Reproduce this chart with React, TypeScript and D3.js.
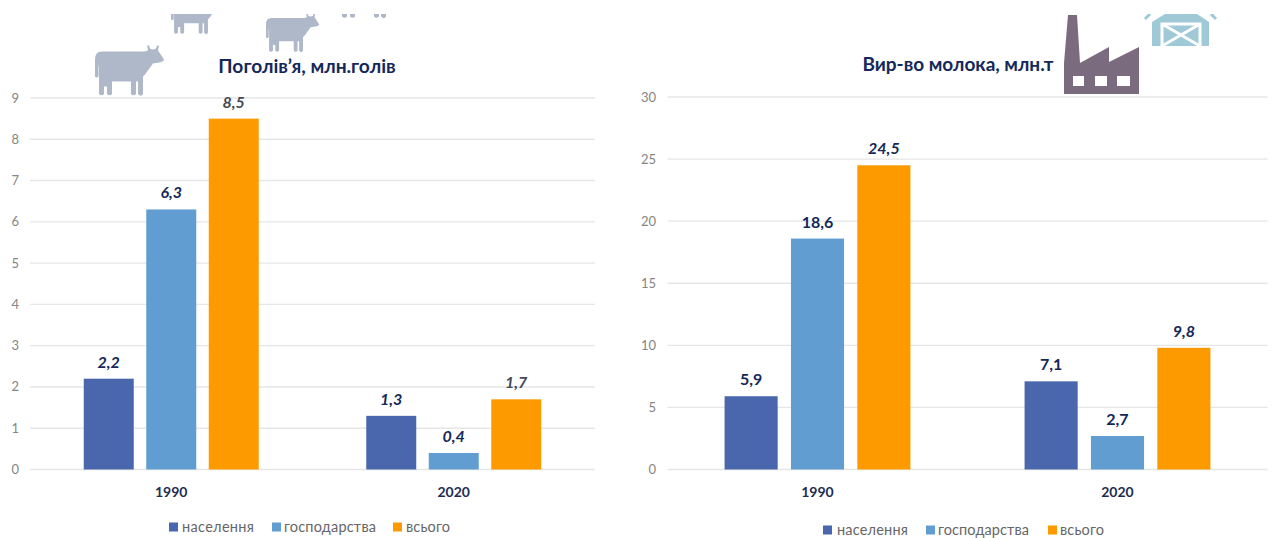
import React from "react";
import * as d3 from "d3";

// Data
const years = ["1990", "2020"];
const seriesNames = ["населення", "господарства", "всього"];
const herdPopulation = [2.2, 1.3];
const herdFarms = [6.3, 0.4];
const herdTotal = [8.5, 1.7];
const milkPopulation = [5.9, 7.1];
const milkFarms = [18.6, 2.7];
const milkTotal = [24.5, 9.8];
const herdTicks = [0, 1, 2, 3, 4, 5, 6, 7, 8, 9];
const milkTicks = [0, 5, 10, 15, 20, 25, 30];

const FONT = "Lato, 'Open Sans', sans-serif";
const NAVY = "#14285a";
const SLATE = "#454a55";
const seriesColor = d3.scaleOrdinal<string, string>().domain(seriesNames).range(["#4a66ac", "#629dd1", "#fd9a00"]);

const fmt = (v: number) => v.toFixed(1).replace(".", ",");

// Cow silhouette on a 69x50 box
const COW =
  "M0,31 V14 Q0,6 7,6 H49 C51,6 53,5 53,4 L52,0 H54 L55,3 Q58,5 61,3 L62,0 H64 L63,5 L69,14 Q69,16 64,17 L58,18 L50,29 L48,31 V48.5 Q46.5,51 45,50 L43,48.5 V36 H41 V48.5 Q38,51 36,48.5 V36 H17 V48.5 Q14.500,51 12,48.5 V41 H9 V48.5 Q6.500,51 4,48.5 V22 Q3.500,17 3.500,24 V31 Q1.500,33 0,31 Z";

function Cow({ x, bottom, scale }: { x: number; bottom: number; scale: number }) {
  return <path d={COW} fill="#aeb8c9" transform={`translate(${x},${bottom - 50 * scale}) scale(${scale})`} />;
}

type PanelProps = {
  range: [number, number];
  yRange: [number, number];
  yDomain: [number, number];
  ticks: number[];
  tickX: number;
  rows: number[][];
  italicSeries: string[];
  slateSeries: string[];
  title: string;
  titleX: number;
  titleY: number;
  titleSize: number;
  legendY: number;
  legendSquares: number[];
  legendTexts: number[];
  legendWidths: number[];
};

function Panel(p: PanelProps) {
  const x0 = d3.scaleBand().domain(years).range(p.range);
  const x1 = d3.scaleBand().domain(seriesNames).range([0, x0.bandwidth()]).paddingInner(0.2).paddingOuter(0.86);
  const y = d3.scaleLinear().domain(p.yDomain).range(p.yRange);

  return (
    <g fontFamily={FONT}>
      {p.ticks.map((t) => (
        <g key={t}>
          <line x1={p.range[0]} x2={p.range[1]} y1={y(t)} y2={y(t)} stroke="#e6e6e6" strokeWidth={1.4} />
          <text x={p.tickX} y={y(t)} dy="0.35em" textAnchor="end" fontSize={13} fill="#858585">
            {t}
          </text>
        </g>
      ))}
      {seriesNames.map((name, s) =>
        years.map((yr, i) => {
          const v = p.rows[s][i];
          const bx = (x0(yr) as number) + (x1(name) as number);
          return (
            <g key={name + yr}>
              <rect x={bx} y={y(v)} width={x1.bandwidth()} height={y(0) - y(v)} fill={seriesColor(name)} />
              <text
                x={bx + x1.bandwidth() / 2}
                y={y(v) - 11}
                textAnchor="middle"
                fontSize={16}
                fontWeight={700}
                fontStyle={p.italicSeries.includes(name) ? "italic" : "normal"}
                fill={p.slateSeries.includes(name) ? SLATE : NAVY}
              >
                {fmt(v)}
              </text>
            </g>
          );
        })
      )}
      {years.map((yr) => (
        <text
          key={yr}
          x={(x0(yr) as number) + x0.bandwidth() / 2}
          y={497}
          textAnchor="middle"
          fontSize={14}
          fontWeight={700}
          fill="#1d2c52"
        >
          {yr}
        </text>
      ))}
      <text x={p.titleX} y={p.titleY} textAnchor="middle" fontSize={p.titleSize} fontWeight={700} fill={NAVY}>
        {p.title}
      </text>
      {seriesNames.map((name, i) => (
        <g key={name}>
          <rect x={p.legendSquares[i]} y={p.legendY - 4.5} width={9} height={9} fill={seriesColor(name)} />
          <text
            x={p.legendTexts[i]}
            y={p.legendY}
            dy="0.33em"
            fontSize={14.5}
            fill="#666666"
            textLength={p.legendWidths[i]}
            lengthAdjust="spacing"
          >
            {name}
          </text>
        </g>
      ))}
    </g>
  );
}

export default function App() {
  return (
    <svg
      width={1272}
      height={538}
      viewBox="0 0 1272 538"
      style={{ position: "absolute", left: 0, top: 0, display: "block", background: "#fff" }}
    >
      <defs>
        <clipPath id="decor-top">
          <rect x={0} y={14} width={1272} height={524} />
        </clipPath>
      </defs>

      <Panel
        range={[30, 595]}
        yRange={[469.5, 98]}
        yDomain={[0, 9]}
        ticks={herdTicks}
        tickX={19}
        rows={[herdPopulation, herdFarms, herdTotal]}
        italicSeries={seriesNames}
        slateSeries={["всього"]}
        title="Поголів’я, млн.голів"
        titleX={307}
        titleY={73}
        titleSize={19.2}
        legendY={527}
        legendSquares={[169, 272, 393]}
        legendTexts={[182, 284, 406]}
        legendWidths={[72, 92, 44]}
      />
      <Panel
        range={[667.5, 1267.5]}
        yRange={[469.5, 97]}
        yDomain={[0, 30]}
        ticks={milkTicks}
        tickX={656}
        rows={[milkPopulation, milkFarms, milkTotal]}
        italicSeries={["всього"]}
        slateSeries={[]}
        title="Вир-во молока, млн.т"
        titleX={958}
        titleY={71}
        titleSize={19}
        legendY={530}
        legendSquares={[823, 926, 1048]}
        legendTexts={[837, 938, 1060]}
        legendWidths={[71, 91, 44]}
      />

      {/* Decorative pictograms above the panels, cut off along the top edge */}
      <g clipPath="url(#decor-top)">
        <Cow x={95} bottom={95.500} scale={1} />
        <Cow x={266} bottom={52} scale={0.77} />
        <Cow x={171} bottom={34} scale={0.77} />
        <Cow x={338} bottom={18} scale={1} />

        <path
          d="M1064,94 V63 L1068,15 H1077 L1080,63 L1109,47 V62 L1139,47 V94 Z"
          fill="#7b6b7e"
        />
        <rect x={1073} y={76} width={11} height={10} fill="#fff" />
        <rect x={1095} y={76} width={12} height={10} fill="#fff" />
        <rect x={1117} y={76} width={13} height={10} fill="#fff" />

        <path d="M1152,46 V22 L1165,14 H1197 L1209,22 V46 Z" fill="#9fc9d6" />
        <path d="M1145,19 L1150,14 M1216,19 L1211,14" stroke="#9fc9d6" strokeWidth={3} fill="none" />
        <rect x={1162} y={24} width={38} height={24} fill="#9fc9d6" stroke="#fff" strokeWidth={3} />
        <path d="M1162,24 L1200,46 M1200,24 L1162,46" stroke="#fff" strokeWidth={3} />
        <rect x={1155} y={46} width={54} height={4} fill="#fff" />
      </g>
    </svg>
  );
}
